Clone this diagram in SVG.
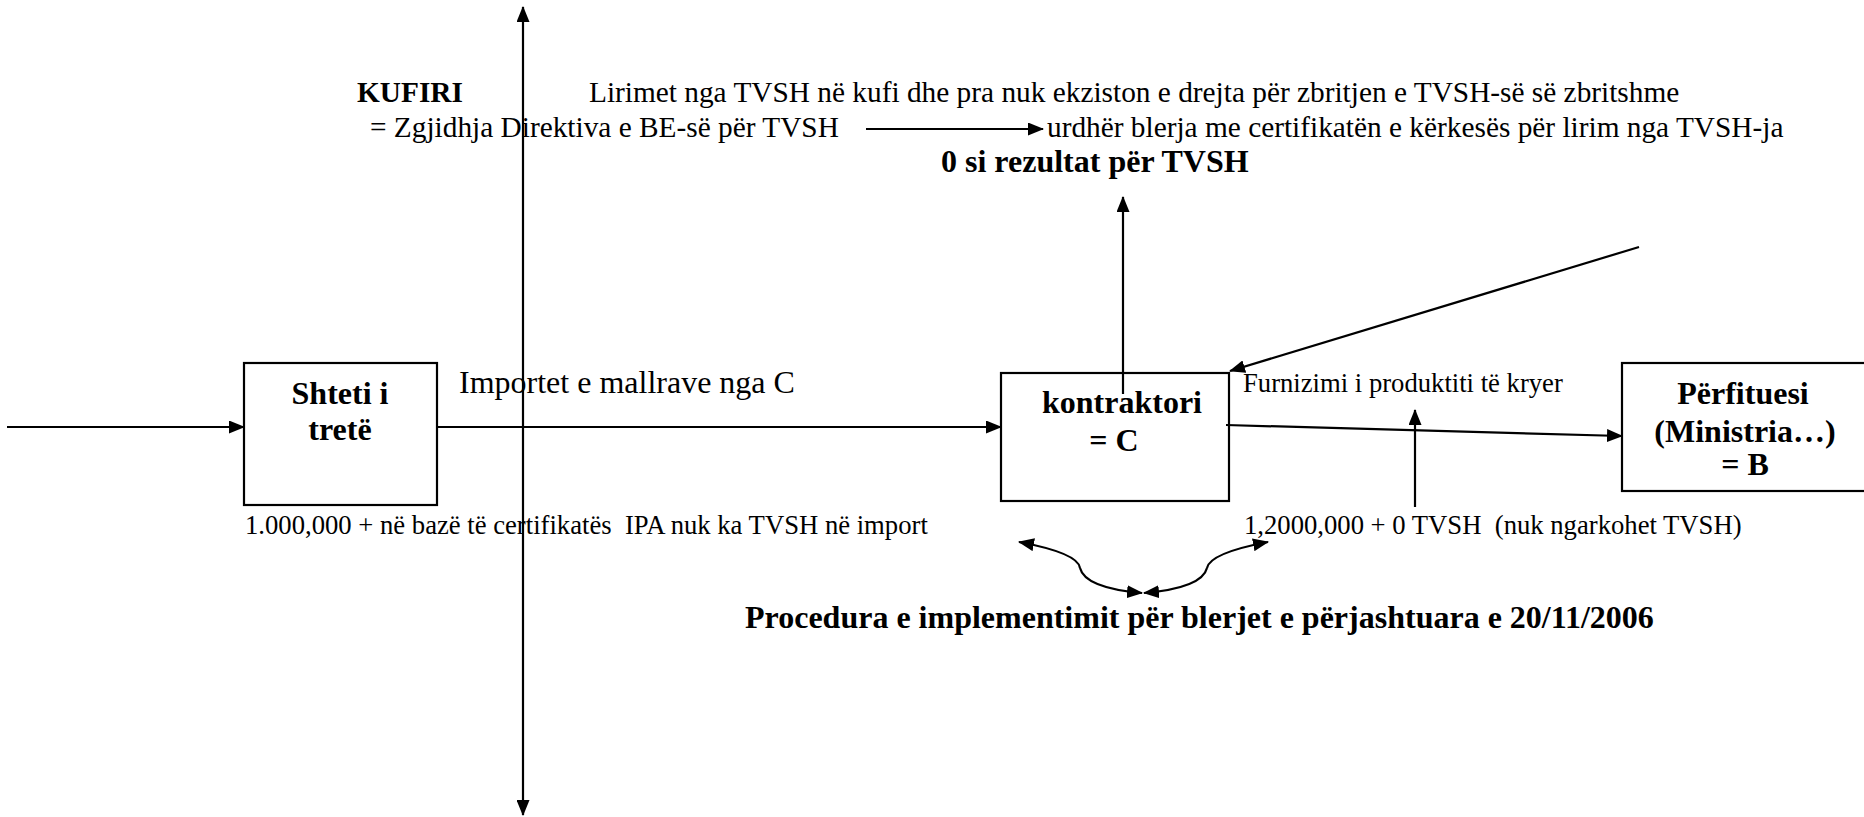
<svg xmlns="http://www.w3.org/2000/svg" width="1864" height="817" viewBox="0 0 1864 817">
<style>
text{font-family:"Liberation Serif","Times New Roman",serif;fill:#000;white-space:pre}
.b{font-weight:bold}
.f22{font-size:29.33px}
.f24{font-size:32px}
.f20{font-size:26.67px}
.box{fill:#fff;stroke:#000;stroke-width:2.2}
.ln{fill:none;stroke:#000;stroke-width:2.2}
.mid{text-anchor:middle}
</style>
<defs>
<marker id="ah" markerUnits="userSpaceOnUse" viewBox="0 0 16 13" markerWidth="16" markerHeight="13" refX="15" refY="6.5" orient="auto">
<path d="M0,0 L16,6.5 L0,13 z" fill="#000"/>
</marker>
</defs>
<rect width="1864" height="817" fill="#fff"/>
<g id="node-shteti">
<rect class="box" x="244" y="363" width="193" height="142"/>
<text class="b f24 mid" x="340" y="404">Shteti i</text>
<text class="b f24 mid" x="340" y="440">tretë</text>
</g>
<g id="node-kontraktori">
<rect class="box" x="1001" y="373" width="228" height="128"/>
<text class="b f24 mid" x="1122" y="413">kontraktori</text>
<text class="b f24 mid" x="1114" y="451">= C</text>
</g>
<g id="node-perfituesi">
<rect class="box" x="1622" y="363" width="260" height="128"/>
<text class="b f24 mid" x="1743" y="404">Përfituesi</text>
<text class="b f24 mid" x="1745" y="442">(Ministria…)</text>
<text class="b f24 mid" x="1745" y="475">= B</text>
</g>
<g id="labels">
<text class="b f22" x="357" y="102">KUFIRI</text>
<text class="f22" x="589" y="102">Lirimet nga TVSH në kufi dhe pra nuk ekziston e drejta për zbritjen e TVSH-së së zbritshme</text>
<text class="f22" x="370" y="137">= Zgjidhja Direktiva e BE-së për TVSH</text>
<text class="f22" x="1047" y="137">urdhër blerja me certifikatën e kërkesës për lirim nga TVSH-ja</text>
<text class="b f24" x="941" y="172">0 si rezultat për TVSH</text>
<text class="f24" x="459" y="393">Importet e mallrave nga C</text>
<text class="f20" x="1243" y="392">Furnizimi i produktiti të kryer</text>
<text class="f20" x="245" y="534" xml:space="preserve">1.000,000 + në bazë të certifikatës  IPA nuk ka TVSH në import</text>
<text class="f20" x="1244" y="534" xml:space="preserve">1,2000,000 + 0 TVSH  (nuk ngarkohet TVSH)</text>
<text class="b f24" x="745" y="628">Procedura e implementimit për blerjet e përjashtuara e 20/11/2006</text>
</g>
<g id="connectors">
<line class="ln" x1="523" y1="411" x2="523" y2="7" marker-end="url(#ah)"/>
<line class="ln" x1="523" y1="411" x2="523" y2="815" marker-end="url(#ah)"/>
<line class="ln" x1="7" y1="427" x2="244" y2="427" marker-end="url(#ah)"/>
<line class="ln" x1="437" y1="427" x2="1001" y2="427" marker-end="url(#ah)"/>
<line class="ln" x1="1123" y1="394" x2="1123" y2="197" marker-end="url(#ah)"/>
<line class="ln" x1="1639" y1="247" x2="1230" y2="371" marker-end="url(#ah)"/>
<line class="ln" x1="1226" y1="425" x2="1622" y2="436" marker-end="url(#ah)"/>
<line class="ln" x1="1415" y1="507" x2="1415" y2="410" marker-end="url(#ah)"/>
<line class="ln" x1="866" y1="129" x2="1043" y2="129" marker-end="url(#ah)"/>
<path class="ln" d="M1080,568 Q1078,553 1019,542" marker-end="url(#ah)"/>
<path class="ln" d="M1080,568 Q1085,588 1142,593" marker-end="url(#ah)"/>
<path class="ln" d="M1207,568 Q1210,553 1268,542" marker-end="url(#ah)"/>
<path class="ln" d="M1207,568 Q1202,588 1144,593" marker-end="url(#ah)"/>
</g>
</svg>
